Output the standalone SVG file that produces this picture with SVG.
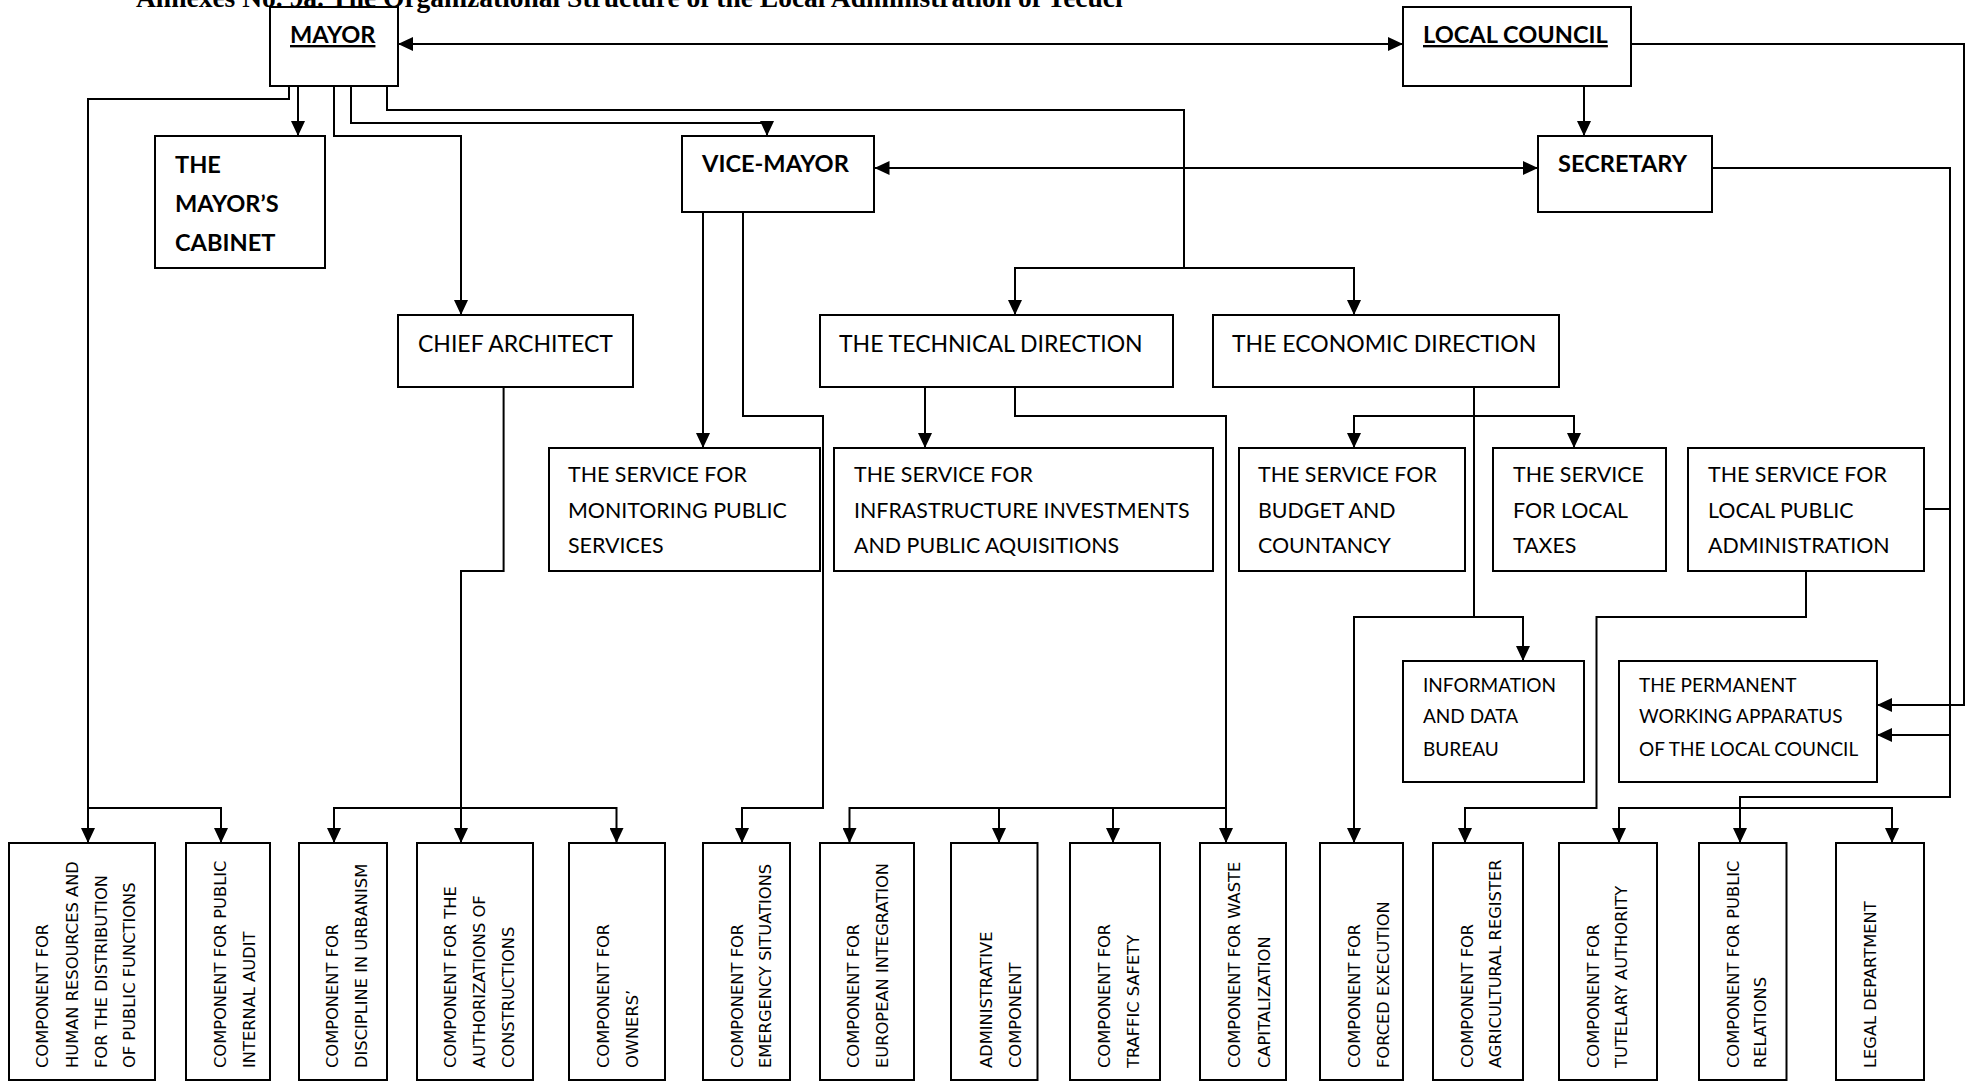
<svg xmlns="http://www.w3.org/2000/svg" width="1971" height="1081" viewBox="0 0 1971 1081">
<style>
.bg{fill:#fff}
.box{fill:#fff;stroke:#000;stroke-width:2}
.t{font-family:Lato,"Liberation Sans",sans-serif;fill:#000}
.hd{font-size:23px}
.sv{font-size:21.4px}
.sm{font-size:19px}
.b{font-family:Lato,"Liberation Sans",sans-serif;font-weight:bold;font-size:23.6px;fill:#000}
.u{text-decoration:underline}
.r{font-family:"DejaVu Sans",sans-serif;font-size:16.3px;fill:#000}
.ttl{font-family:"Liberation Serif",serif;font-weight:bold;font-size:27.5px;fill:#000}
.c{fill:none;stroke:#000;stroke-width:2}
</style>
<defs>
<marker id="ah" markerWidth="15" markerHeight="14" refX="15" refY="7" orient="auto-start-reverse" markerUnits="userSpaceOnUse">
<path d="M0,0 L15,7 L0,14 z" fill="#000"/>
</marker>
</defs>
<rect class="bg" x="0" y="0" width="1971" height="1081"/>
<text class="ttl" x="136" y="7">Annexes No. 9a. The Organizational Structure of the Local Administration of Tecuci</text>

<g id="connectors">
<path class="c" d="M398,44 H1403" marker-start="url(#ah)" marker-end="url(#ah)"/>
<path class="c" d="M1584,86 V136" marker-end="url(#ah)"/>
<path class="c" d="M1631,44 H1964 V705 H1877" marker-end="url(#ah)"/>
<path class="c" d="M874.5,168 H1538" marker-start="url(#ah)" marker-end="url(#ah)"/>
<path class="c" d="M1712,168 H1950 V797 H1740 V843" marker-end="url(#ah)"/>
<path class="c" d="M1950,735 H1877" marker-end="url(#ah)"/>
<path class="c" d="M1924,509 H1950"/>
<path class="c" d="M1619,843 V808 H1892 V843" marker-start="url(#ah)" marker-end="url(#ah)"/>
<path class="c" d="M289,86 V99 H88 V843" marker-end="url(#ah)"/>
<path class="c" d="M88,808 H221 V843" marker-end="url(#ah)"/>
<path class="c" d="M298,86 V136" marker-end="url(#ah)"/>
<path class="c" d="M334,86 V136 H461 V315" marker-end="url(#ah)"/>
<path class="c" d="M351,86 V123 H767 V136" marker-end="url(#ah)"/>
<path class="c" d="M387,86 V110 H1184 V268"/>
<path class="c" d="M1015,315 V268 H1354 V315" marker-start="url(#ah)" marker-end="url(#ah)"/>
<path class="c" d="M703,212 V448" marker-end="url(#ah)"/>
<path class="c" d="M743,212 V416 H823 V808 H742 V843" marker-end="url(#ah)"/>
<path class="c" d="M503.6,387 V571 H461 V843" marker-end="url(#ah)"/>
<path class="c" d="M334,843 V808 H616.5 V843" marker-start="url(#ah)" marker-end="url(#ah)"/>
<path class="c" d="M925,387 V448" marker-end="url(#ah)"/>
<path class="c" d="M1015,387 V416 H1226 V843" marker-end="url(#ah)"/>
<path class="c" d="M849.5,843 V808 H1226" marker-start="url(#ah)"/>
<path class="c" d="M999,808 V843" marker-end="url(#ah)"/>
<path class="c" d="M1113,808 V843" marker-end="url(#ah)"/>
<path class="c" d="M1474,387 V617"/>
<path class="c" d="M1354,448 V416 H1574 V448" marker-start="url(#ah)" marker-end="url(#ah)"/>
<path class="c" d="M1354,843 V617 H1523 V661" marker-start="url(#ah)" marker-end="url(#ah)"/>
<path class="c" d="M1806,571 V617 H1596.5 V808 H1465 V843" marker-end="url(#ah)"/>
</g>

<g id="mayor"><rect class="box" x="270" y="7" width="128" height="79"/><text class="b u" x="290" y="43">MAYOR</text></g>
<g id="local-council"><rect class="box" x="1403" y="7" width="228" height="79"/><text class="b u" x="1423" y="43">LOCAL COUNCIL</text></g>
<g id="mayors-cabinet"><rect class="box" x="155" y="136" width="170" height="132"/><text class="b" x="175" y="173">THE</text><text class="b" x="175" y="212">MAYOR’S</text><text class="b" x="175" y="251">CABINET</text></g>
<g id="vice-mayor"><rect class="box" x="682" y="136" width="192" height="76"/><text class="b" x="702" y="172">VICE-MAYOR</text></g>
<g id="secretary"><rect class="box" x="1538" y="136" width="174" height="76"/><text class="b" x="1558" y="172">SECRETARY</text></g>
<g id="chief-architect"><rect class="box" x="398" y="315" width="235" height="72"/><text class="t hd" x="418" y="352">CHIEF ARCHITECT</text></g>
<g id="technical-direction"><rect class="box" x="820" y="315" width="353" height="72"/><text class="t hd" x="839" y="352">THE TECHNICAL DIRECTION</text></g>
<g id="economic-direction"><rect class="box" x="1213" y="315" width="346" height="72"/><text class="t hd" x="1232" y="352">THE ECONOMIC DIRECTION</text></g>
<g id="monitoring"><rect class="box" x="549" y="448" width="271" height="123"/><text class="t sv" x="568" y="482">THE SERVICE FOR</text><text class="t sv" x="568" y="518">MONITORING PUBLIC</text><text class="t sv" x="568" y="553">SERVICES</text></g>
<g id="infrastructure"><rect class="box" x="834" y="448" width="379" height="123"/><text class="t sv" x="854" y="482">THE SERVICE FOR</text><text class="t sv" x="854" y="518">INFRASTRUCTURE INVESTMENTS</text><text class="t sv" x="854" y="553">AND PUBLIC AQUISITIONS</text></g>
<g id="budget"><rect class="box" x="1239" y="448" width="226" height="123"/><text class="t sv" x="1258" y="482">THE SERVICE FOR</text><text class="t sv" x="1258" y="518">BUDGET AND</text><text class="t sv" x="1258" y="553">COUNTANCY</text></g>
<g id="local-taxes"><rect class="box" x="1493" y="448" width="173" height="123"/><text class="t sv" x="1513" y="482">THE SERVICE</text><text class="t sv" x="1513" y="518">FOR LOCAL</text><text class="t sv" x="1513" y="553">TAXES</text></g>
<g id="local-public-admin"><rect class="box" x="1688" y="448" width="236" height="123"/><text class="t sv" x="1708" y="482">THE SERVICE FOR</text><text class="t sv" x="1708" y="518">LOCAL PUBLIC</text><text class="t sv" x="1708" y="553">ADMINISTRATION</text></g>
<g id="info-bureau"><rect class="box" x="1403" y="661" width="181" height="121"/><text class="t sm" x="1423" y="692">INFORMATION</text><text class="t sm" x="1423" y="723">AND DATA</text><text class="t sm" x="1423" y="756">BUREAU</text></g>
<g id="permanent-apparatus"><rect class="box" x="1619" y="661" width="258" height="121"/><text class="t sm" x="1639" y="692">THE PERMANENT</text><text class="t sm" x="1639" y="723">WORKING APPARATUS</text><text class="t sm" x="1639" y="756">OF THE LOCAL COUNCIL</text></g>

<g id="c-hr"><rect class="box" x="9" y="843" width="146" height="237"/><text class="r" transform="translate(48,1068) rotate(-90)">COMPONENT FOR</text><text class="r" transform="translate(78,1068) rotate(-90)">HUMAN RESOURCES AND</text><text class="r" transform="translate(107,1068) rotate(-90)">FOR THE DISTRIBUTION</text><text class="r" transform="translate(135,1068) rotate(-90)">OF PUBLIC FUNCTIONS</text></g>
<g id="c-audit"><rect class="box" x="186" y="843" width="84" height="237"/><text class="r" transform="translate(225.5,1068) rotate(-90)">COMPONENT FOR PUBLIC</text><text class="r" transform="translate(254.5,1068) rotate(-90)">INTERNAL AUDIT</text></g>
<g id="c-urbanism"><rect class="box" x="299" y="843" width="88" height="237"/><text class="r" transform="translate(338,1068) rotate(-90)">COMPONENT FOR</text><text class="r" transform="translate(367,1068) rotate(-90)">DISCIPLINE IN URBANISM</text></g>
<g id="c-authorizations"><rect class="box" x="417" y="843" width="116" height="237"/><text class="r" transform="translate(456,1068) rotate(-90)">COMPONENT FOR THE</text><text class="r" transform="translate(485,1068) rotate(-90)">AUTHORIZATIONS OF</text><text class="r" transform="translate(514,1068) rotate(-90)">CONSTRUCTIONS</text></g>
<g id="c-owners"><rect class="box" x="569" y="843" width="96" height="237"/><text class="r" transform="translate(609,1068) rotate(-90)">COMPONENT FOR</text><text class="r" transform="translate(638,1068) rotate(-90)">OWNERS’</text></g>
<g id="c-emergency"><rect class="box" x="703" y="843" width="87" height="237"/><text class="r" transform="translate(743,1068) rotate(-90)">COMPONENT FOR</text><text class="r" transform="translate(771,1068) rotate(-90)">EMERGENCY SITUATIONS</text></g>
<g id="c-european"><rect class="box" x="820" y="843" width="94" height="237"/><text class="r" transform="translate(859,1068) rotate(-90)">COMPONENT FOR</text><text class="r" transform="translate(888,1068) rotate(-90)">EUROPEAN INTEGRATION</text></g>
<g id="c-administrative"><rect class="box" x="951" y="843" width="86.5" height="237"/><text class="r" transform="translate(991.5,1068) rotate(-90)">ADMINISTRATIVE</text><text class="r" transform="translate(1020.5,1068) rotate(-90)">COMPONENT</text></g>
<g id="c-traffic"><rect class="box" x="1070" y="843" width="90" height="237"/><text class="r" transform="translate(1110,1068) rotate(-90)">COMPONENT FOR</text><text class="r" transform="translate(1139,1068) rotate(-90)">TRAFFIC SAFETY</text></g>
<g id="c-waste"><rect class="box" x="1200" y="843" width="86" height="237"/><text class="r" transform="translate(1240,1068) rotate(-90)">COMPONENT FOR WASTE</text><text class="r" transform="translate(1270,1068) rotate(-90)">CAPITALIZATION</text></g>
<g id="c-forced"><rect class="box" x="1320" y="843" width="83" height="237"/><text class="r" transform="translate(1360,1068) rotate(-90)">COMPONENT FOR</text><text class="r" transform="translate(1388.5,1068) rotate(-90)">FORCED EXECUTION</text></g>
<g id="c-agricultural"><rect class="box" x="1433" y="843" width="90" height="237"/><text class="r" transform="translate(1473,1068) rotate(-90)">COMPONENT FOR</text><text class="r" transform="translate(1501,1068) rotate(-90)">AGRICULTURAL REGISTER</text></g>
<g id="c-tutelary"><rect class="box" x="1559" y="843" width="98" height="237"/><text class="r" transform="translate(1598.7,1068) rotate(-90)">COMPONENT FOR</text><text class="r" transform="translate(1627,1068) rotate(-90)">TUTELARY AUTHORITY</text></g>
<g id="c-public-relations"><rect class="box" x="1699" y="843" width="87.5" height="237"/><text class="r" transform="translate(1738.6,1068) rotate(-90)">COMPONENT FOR PUBLIC</text><text class="r" transform="translate(1766,1068) rotate(-90)">RELATIONS</text></g>
<g id="c-legal"><rect class="box" x="1836" y="843" width="88" height="237"/><text class="r" transform="translate(1875.5,1068) rotate(-90)">LEGAL DEPARTMENT</text></g>
</svg>
